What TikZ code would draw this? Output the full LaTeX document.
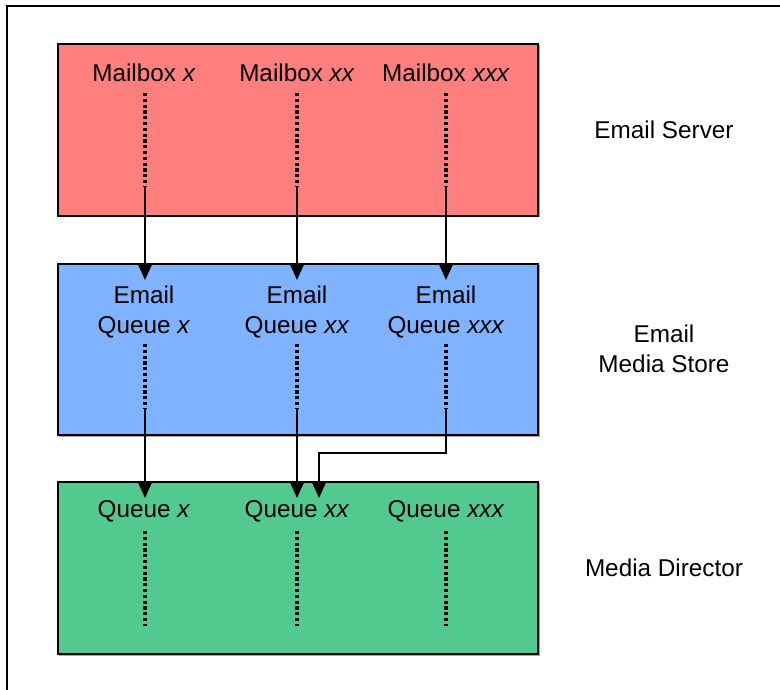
\documentclass[tikz,border=0pt]{standalone}
\usepackage{fontspec}
\setmainfont{Liberation Sans}
\usetikzlibrary{arrows.meta}
\definecolor{redbox}{HTML}{FF7F7F}
\definecolor{bluebox}{HTML}{7FB2FF}
\definecolor{greenbox}{HTML}{52C98E}
\begin{document}
\begin{tikzpicture}[x=1pt,y=-1pt,
  layer/.style={draw=black,line width=1.8pt},
  lbl/.style={font=\fontsize{24.3}{30}\selectfont,inner sep=0pt,align=center},
  dots/.style={line width=3.2pt,dash pattern=on 3.2pt off 2.6pt},
  flow/.style={line width=1.8pt,-{Triangle[length=15pt,width=13pt]}},
  join/.style={line width=1.8pt}]
\useasboundingbox (0,0) rectangle (780,690);
\begin{scope}
\clip (0,0) rectangle (780,690);
\draw[line width=2pt] (6.5,800) -- (6.5,6.5) -- (800,6.5);
\end{scope}
% shadows
\fill[black!35] (59,45) rectangle (539.5,217.5);
\fill[black!35] (59,265) rectangle (539.5,436.5);
\fill[black!35] (59,483) rectangle (539.5,655.5);
% boxes
\node[layer,fill=redbox,minimum width=480pt,minimum height=172pt,anchor=north west] (srv) at (57,43) {};
\node[layer,fill=bluebox,minimum width=480pt,minimum height=171pt,anchor=north west] (ems) at (57,263) {};
\node[layer,fill=greenbox,minimum width=480pt,minimum height=172pt,anchor=north west] (md) at (57,481) {};
% labels in boxes
\node[lbl] (mb1) at (144,73) {Mailbox \textit{x}};
\node[lbl] (mb2) at (297,73) {Mailbox \textit{xx}};
\node[lbl] (mb3) at (446,73) {Mailbox \textit{xxx}};
\node[lbl] (eq1) at (144,312) {Email\\Queue \textit{x}};
\node[lbl] (eq2) at (297,312) {Email\\Queue \textit{xx}};
\node[lbl] (eq3) at (446,312) {Email\\Queue \textit{xxx}};
\node[lbl] (q1) at (144,511) {Queue \textit{x}};
\node[lbl] (q2) at (297,511) {Queue \textit{xx}};
\node[lbl] (q3) at (446,511) {Queue \textit{xxx}};
% side labels
\node[lbl] (lsrv) at (664,130) {Email Server};
\node[lbl] (lems) at (664,349) {Email\\Media Store};
\node[lbl] (lmd) at (664,568) {Media Director};
% coordinates
\coordinate (a1s) at (145,93); \coordinate (a1e) at (145,187);
\coordinate (a2s) at (297,93); \coordinate (a2e) at (297,187);
\coordinate (a3s) at (446,93); \coordinate (a3e) at (446,187);
\coordinate (b1t) at (145,280); \coordinate (b2t) at (297,280); \coordinate (b3t) at (446,280);
\coordinate (b1s) at (145,344); \coordinate (b1e) at (145,408);
\coordinate (b2s) at (297,344); \coordinate (b2e) at (297,408);
\coordinate (b3s) at (446,344); \coordinate (b3e) at (446,408);
\coordinate (c1t) at (145,498); \coordinate (c2t) at (297,498); \coordinate (c3t) at (319,498);
\coordinate (bend1) at (446,453); \coordinate (bend2) at (319,453);
\coordinate (d1s) at (145,531); \coordinate (d1e) at (145,626);
\coordinate (d2s) at (297,531); \coordinate (d2e) at (297,626);
\coordinate (d3s) at (446,531); \coordinate (d3e) at (446,626);
% dotted lines
\foreach \p in {a1,a2,a3,b1,b2,b3,d1,d2,d3} \draw[dots] (\p s) -- (\p e);
% arrows
\draw[flow] (a1e) -- (b1t);
\draw[flow] (a2e) -- (b2t);
\draw[flow] (a3e) -- (b3t);
\draw[flow] (b1e) -- (c1t);
\draw[flow] (b2e) -- (c2t);
\draw[flow] (b3e) -- (bend1) -- (bend2) -- (c3t);
\end{tikzpicture}
\end{document}
